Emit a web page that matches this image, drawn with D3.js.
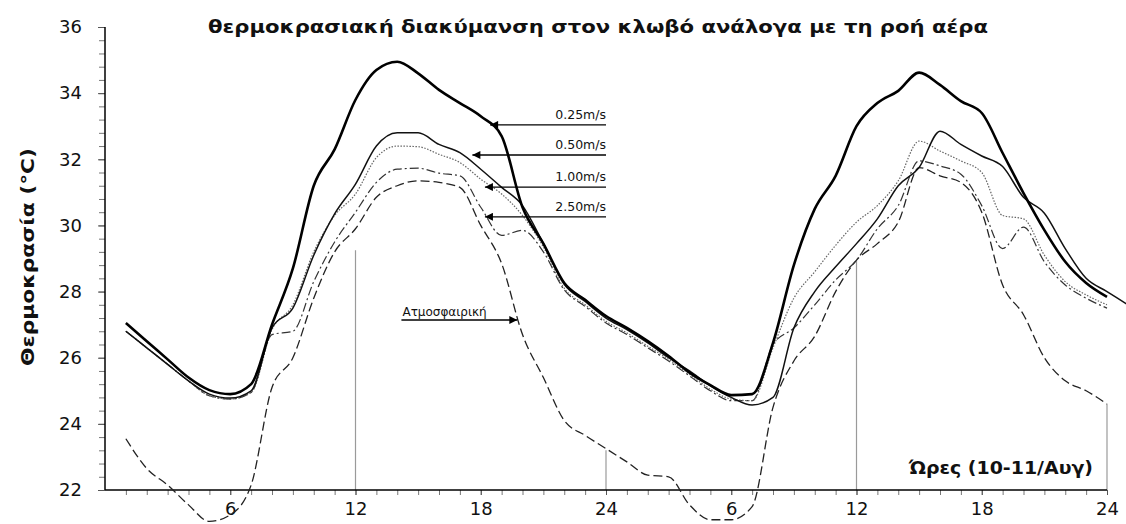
<!DOCTYPE html>
<html>
<head>
<meta charset="utf-8">
<script src="https://cdn.jsdelivr.net/npm/d3@7"></script>
<style>
  body { margin: 0; background: #fff; }
  svg { display: block; }
  text { font-family: "DejaVu Sans", sans-serif; fill: #111; }
</style>
</head>
<body>
<svg id="chart" width="1126" height="524"></svg>
<script>
// ωρες 1..48 (η σειρά 0.50 έχει και 49η τιμή)
var titre = "θερμοκρασιακή διακύμανση στον κλωβό ανάλογα με τη ροή αέρα";
var titreY = "Θερμοκρασία (°C)";
var titreX = "Ώρες (10-11/Αυγ)";

var v025 = [27.05,26.5,25.95,25.4,25.02,24.9,25.2,27.0,28.7,31.2,32.3,33.8,34.7,34.95,34.6,34.1,33.7,33.3,32.7,30.55,
  29.45,28.26,27.75,27.26,26.9,26.5,26.05,25.55,25.17,24.87,24.9,26.45,28.8,30.5,31.5,33.0,33.7,34.07,34.62,34.25,
  33.76,33.4,32.19,30.98,29.86,28.9,28.26,27.84];
var v050 = [26.8,26.3,25.8,25.3,24.9,24.78,25.0,26.9,27.5,29.1,30.35,31.25,32.4,32.8,32.8,32.45,32.2,31.7,31.15,30.6,
  29.45,28.22,27.7,27.2,26.85,26.45,26.0,25.6,25.15,24.8,24.57,24.8,26.9,28.0,28.75,29.45,30.2,31.2,31.75,32.85,
  32.45,32.1,31.78,30.85,30.37,29.3,28.4,28.0,27.6];
var v100 = [26.8,26.3,25.8,25.3,24.85,24.75,24.95,26.85,27.6,29.2,30.3,30.95,32.05,32.4,32.38,32.15,31.9,31.4,30.95,30.3,
  29.35,28.1,27.6,27.1,26.75,26.35,25.95,25.5,25.05,24.75,24.7,26.3,27.8,28.6,29.4,30.1,30.6,31.35,32.55,32.25,
  31.95,31.6,30.3,30.2,29.1,28.3,27.9,27.6];
var v250 = [26.8,26.3,25.8,25.3,24.85,24.75,24.95,26.7,26.8,28.3,29.5,30.4,31.3,31.7,31.73,31.58,31.5,30.55,29.7,29.85,
  29.2,28.05,27.55,27.05,26.7,26.3,25.9,25.45,25.0,24.7,24.7,26.4,26.9,27.6,28.35,28.95,29.9,30.6,31.95,31.8,
  31.55,30.6,29.3,29.95,28.9,28.2,27.8,27.5];
var vAtm = [23.55,22.65,22.15,21.55,21.05,21.25,22.15,25.1,26.0,27.8,29.2,29.9,30.85,31.2,31.35,31.3,31.15,30.0,28.85,26.7,
  25.4,24.1,23.65,23.25,22.85,22.45,22.4,21.55,21.1,21.1,21.5,24.5,25.9,26.65,28.0,28.95,29.45,30.1,31.75,31.5,
  31.3,30.4,28.2,27.3,26.0,25.3,25.0,24.6];

// γραμμές αναφοράς (ώρα, κορυφή)
var dropH = [12,24,36,48];
var dropT = [29.25,23.2,28.95,24.6];

// ετικέτες βελών
var etiq = ["0.25m/s","0.50m/s","1.00m/s","2.50m/s"];
var etiqPointe = [[18.45,33.04],[17.6,32.13],[18.2,31.16],[18.2,30.26]];
var etiqQueue = 24;
var etiqAtm = "Ατμοσφαιρική";
var atmQueue = 14.2, atmPointe = [19.75,27.14];

var svg = d3.select("#chart");
var x = d3.scaleLinear().domain([0,48]).range([105,1107]);
var y = d3.scaleLinear().domain([22,36]).range([490,27]);

svg.append("defs").selectAll("marker").data(["gauche","droite"]).enter()
  .append("marker")
  .attr("id", function(d){ return "fl_"+d; })
  .attr("viewBox","0 0 10 10").attr("refX",10).attr("refY",5)
  .attr("markerUnits","userSpaceOnUse")
  .attr("markerWidth",11).attr("markerHeight",8)
  .attr("orient","auto")
  .append("path").attr("d","M0,0L10,5L0,10Z").attr("fill","#000");

//lignes verticales grises
svg.append("g").selectAll("line").data(dropH).enter().append("line")
  .attr("x1", function(d){ return x(d); }).attr("x2", function(d){ return x(d); })
  .attr("y1", y(22)).attr("y2", function(d,i){ return y(dropT[i]); })
  .attr("stroke","#9a9a9a").attr("stroke-width",1.2);

//axe Y
var gy = svg.append("g").attr("transform","translate(105,0)");
gy.call(d3.axisLeft(y).tickValues(d3.range(22,36.01,0.4)).tickSize(6).tickFormat(""));
gy.selectAll(".tick line").attr("stroke","#777");
var gy2 = svg.append("g").attr("transform","translate(105,0)");
gy2.call(d3.axisLeft(y).tickValues(d3.range(22,36.01,2)).tickSize(7).tickPadding(16));
gy2.selectAll("text").style("font-size","18px").attr("fill","#222");
gy2.selectAll(".tick line").attr("stroke","#555");
svg.selectAll(".domain").remove();
svg.append("line").attr("x1",105).attr("x2",105).attr("y1",y(36)).attr("y2",y(22))
  .attr("stroke","#000").attr("stroke-width",1.5);

//axe X
var gx = svg.append("g").attr("transform","translate(0,490)");
gx.call(d3.axisBottom(x).tickValues(d3.range(1,49)).tickSize(5).tickFormat(""));
gx.selectAll(".tick line").attr("stroke","#777");
var gx2 = svg.append("g").attr("transform","translate(0,490)");
gx2.call(d3.axisBottom(x).tickValues(d3.range(6,49,6)).tickSize(5).tickPadding(7)
  .tickFormat(function(d){ return d%24==0 ? 24 : d%24; }));
gx2.selectAll("text").style("font-size","18px").attr("fill","#222");
gx2.selectAll(".tick line").attr("stroke","#555");
gx.select(".domain").remove(); gx2.select(".domain").remove();
svg.append("line").attr("x1",x(0)).attr("x2",x(48)).attr("y1",490).attr("y2",490)
  .attr("stroke","#000").attr("stroke-width",1.5);

//courbes
var series = [
  {v: vAtm, w: 1.3, dash: "9,4", col: "#222"},
  {v: v250, w: 1.2, dash: "9,3,2,3", col: "#333"},
  {v: v100, w: 1.2, dash: "1.5,1.5", col: "#666"},
  {v: v050, w: 1.5, dash: null, col: "#111"},
  {v: v025, w: 2.6, dash: null, col: "#000"}
];
var ligne = d3.line()
  .x(function(d,i){ return x(i+1); })
  .y(function(d){ return y(d); })
  .curve(d3.curveMonotoneX);
svg.append("g").selectAll("path").data(series).enter().append("path")
  .attr("d", function(s){ return ligne(s.v); })
  .attr("fill","none")
  .attr("stroke", function(s){ return s.col; })
  .attr("stroke-width", function(s){ return s.w; })
  .attr("stroke-dasharray", function(s){ return s.dash; })
  .attr("stroke-linejoin","round");

//flèches
var gf = svg.append("g");
etiq.forEach(function(t,i){
  var p = etiqPointe[i];
  gf.append("line")
    .attr("x1", x(etiqQueue)).attr("x2", x(p[0]))
    .attr("y1", y(p[1])).attr("y2", y(p[1]))
    .attr("stroke","#000").attr("stroke-width",1.3)
    .attr("marker-end","url(#fl_gauche)");
  gf.append("text").attr("x", x(etiqQueue)).attr("y", y(p[1]) - 6)
    .attr("text-anchor","end").style("font-size","12.5px").attr("fill","#333").text(t);
});
gf.append("line")
  .attr("x1", x(atmQueue)).attr("x2", x(atmPointe[0]))
  .attr("y1", y(atmPointe[1])).attr("y2", y(atmPointe[1]))
  .attr("stroke","#000").attr("stroke-width",1.3)
  .attr("marker-end","url(#fl_droite)");
gf.append("text").attr("x", x(atmQueue)+1).attr("y", y(atmPointe[1]) - 4)
  .style("font-size","12px").attr("fill","#333").text(etiqAtm);

//titres
svg.append("text").attr("x",598).attr("y",33).attr("text-anchor","middle")
  .style("font-size","18px").style("font-weight","bold")
  .attr("textLength",780).attr("lengthAdjust","spacingAndGlyphs").text(titre);
svg.append("text").attr("transform","translate(34,257) rotate(-90)").attr("text-anchor","middle")
  .style("font-size","17px").style("font-weight","bold")
  .attr("textLength",218).attr("lengthAdjust","spacingAndGlyphs").text(titreY);
svg.append("text").attr("x",1093).attr("y",474).attr("text-anchor","end")
  .style("font-size","17px").style("font-weight","bold")
  .attr("textLength",184).attr("lengthAdjust","spacingAndGlyphs").text(titreX);
</script>
</body>
</html>
